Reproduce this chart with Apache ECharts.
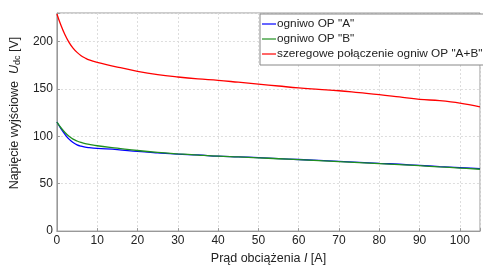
<!DOCTYPE html>
<html>
<head>
<meta charset="utf-8">
<script src="https://cdn.jsdelivr.net/npm/echarts@6/dist/echarts.min.js"></script>
<style>
  html, body { margin: 0; padding: 0; background: #fff; }
  #chart { width: 483px; height: 270px; }
</style>
</head>
<body>
<div id="chart"></div>
<script>
// load current [A]
const current = [0, 1, 2, 3, 4, 5, 6, 7, 8, 10, 15, 20, 25, 30, 35, 40, 45, 50, 55, 60, 65, 70, 75, 80, 85, 90, 95, 100, 105]
// output voltage [V]
const cellA = [115, 108, 102, 97, 93.5, 91, 89.5, 88.5, 88, 87.3, 86, 84, 82.5, 81.2, 80.3, 79, 78.3, 77.5, 76.5, 75.5, 74.5, 73.5, 72.5, 71.5, 70.5, 69.3, 68, 67, 65.8]
const cellB = [115, 109, 104, 100, 97, 95, 93.5, 92.3, 91.5, 90, 87.5, 85, 83, 81.5, 80.2, 79, 78.2, 77.3, 76.3, 75.3, 74.3, 73.3, 72.3, 71.2, 70.2, 69, 67.7, 66.5, 65.2]
const cellAB = [229, 217, 207, 199, 193, 188.5, 185, 182.5, 180.5, 178, 173, 168.5, 165, 162.5, 160.5, 159, 157, 155, 153, 151, 149.5, 148, 146, 144, 141.5, 139, 137.5, 135, 131]

const seriesNames = ['ogniwo OP "A"', 'ogniwo OP "B"', 'szeregowe połączenie ogniw OP "A+B"']
const font = '"Liberation Sans", Arial, sans-serif'

const pairs = (ys) => current.map((x, i) => [x, ys[i]])

const chart = echarts.init(document.getElementById('chart'))
chart.setOption({
  animation: false,
  textStyle: { fontFamily: font },
  grid: {
    left: 46,
    top: 13,
    right: -1,
    bottom: 26,
    show: true,
    borderColor: '#999',
    borderWidth: 1
  },
  legend: {
    orient: 'vertical',
    left: 260,
    top: 14,
    padding: [4, 5, 5, 2],
    itemGap: 3,
    itemWidth: 14,
    itemHeight: 1.2,
    icon: 'rect',
    backgroundColor: '#fff',
    borderColor: '#888',
    borderWidth: 1,
    borderRadius: 0,
    textStyle: { fontSize: 11.8, color: '#222', fontFamily: font, padding: [0, 0, 0, -4] },
    data: seriesNames
  },
  xAxis: {
    type: 'value',
    min: 0,
    max: 105,
    interval: 10,
    name: 'Prąd obciążenia {i|I} [A]',
    nameLocation: 'middle',
    nameGap: 15,
    nameTextStyle: {
      fontSize: 12.5,
      color: '#222',
      rich: { i: { fontStyle: 'italic', fontSize: 12.5, color: '#222' } }
    },
    axisLine: { show: true, lineStyle: { color: '#999' } },
    axisTick: { show: true, inside: true, length: 3, lineStyle: { color: '#999' } },
    axisLabel: {
      color: '#222',
      fontSize: 12,
      margin: 4,
      formatter: (v) => (v % 10 === 0 && v <= 100 ? String(v) : '')
    },
    splitLine: { show: true, lineStyle: { color: '#ddd', type: [2, 2] } }
  },
  yAxis: {
    type: 'value',
    min: 0,
    max: 230,
    interval: 50,
    name: '{n|Napięcie wyjściowe  }{i|U}{s|dc}{n| [V]}',
    nameLocation: 'middle',
    nameGap: 28,
    nameTextStyle: {
      padding: [0, 0, 0, 18],
      rich: {
        n: { fontSize: 12.5, color: '#222' },
        i: { fontSize: 12.5, color: '#222', fontStyle: 'italic' },
        s: { fontSize: 9, color: '#222', verticalAlign: 'bottom', padding: [6, 0, 0, 0] }
      }
    },
    axisLine: { show: true, lineStyle: { color: '#999' } },
    axisTick: { show: true, inside: true, length: 3, lineStyle: { color: '#999' } },
    axisLabel: {
      color: '#222',
      fontSize: 12,
      margin: 4,
      formatter: (v) => (v % 50 === 0 ? String(v) : '')
    },
    splitLine: { show: true, lineStyle: { color: '#ddd', type: [2, 2] } }
  },
  series: [
    {
      name: seriesNames[0],
      type: 'line',
      data: pairs(cellA),
      smooth: 0.4,
      showSymbol: false,
      color: '#0000ff',
      lineStyle: { width: 1.3 }
    },
    {
      name: seriesNames[1],
      type: 'line',
      data: pairs(cellB),
      smooth: 0.4,
      showSymbol: false,
      color: '#1f8f1f',
      lineStyle: { width: 1.3 }
    },
    {
      name: seriesNames[2],
      type: 'line',
      data: pairs(cellAB),
      smooth: 0.4,
      showSymbol: false,
      color: '#ff0000',
      lineStyle: { width: 1.3 }
    }
  ]
})
</script>
</body>
</html>
